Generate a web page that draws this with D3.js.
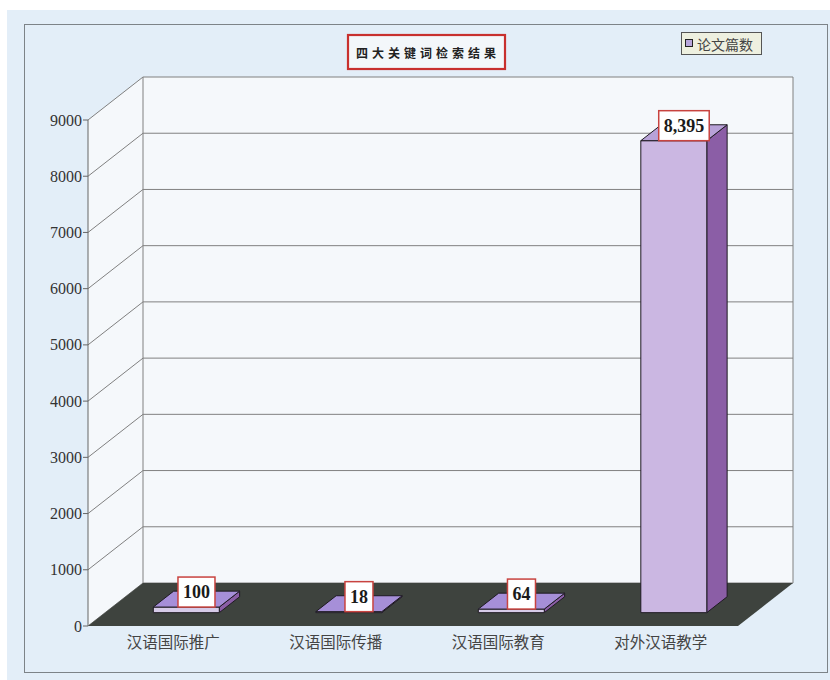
<!DOCTYPE html>
<html>
<head>
<meta charset="utf-8">
<script src="https://cdn.jsdelivr.net/npm/d3@7"></script>
<style>
  html, body { margin: 0; padding: 0; background: #ffffff; }
  svg { display: block; }
</style>
</head>
<body>
<svg id="chart" width="830" height="680"></svg>
<script>
// Search results for four key terms
const categories = ["汉语国际推广", "汉语国际传播", "汉语国际教育", "对外汉语教学"];
const paperCounts = [100, 18, 64, 8395];
const yTicks = [0, 1000, 2000, 3000, 4000, 5000, 6000, 7000, 8000, 9000];
const chartTitle = "四大关键词检索结果";
const legendLabel = "论文篇数";

const svg = d3.select("#chart");

// plot frame (front plane) and 3D depth offset
const frontLeft = 88, frontRight = 738, frontBottom = 626, frontTop = 120;
const depthDX = 55, depthDY = -43;
const barZ0 = 0.31, barZ1 = 0.68;

const y = d3.scaleLinear().domain([0, 9000]).range([frontBottom, frontTop]);
const x = d3.scaleBand().domain(categories).range([frontLeft, frontRight])
  .paddingInner(0.594).paddingOuter(0.297);

// project a front-plane point back by depth fraction z
const P = (px, py, z) => [px + z * depthDX, py + z * depthDY];
const poly = pts => pts.map(p => p.join(",")).join(" ");

// outer background
svg.append("rect").attr("x", 7).attr("y", 10).attr("width", 823).attr("height", 670)
  .attr("fill", "#e3eef8");
svg.append("rect").attr("x", 24.5).attr("y", 24.5).attr("width", 803).attr("height", 648)
  .attr("fill", "none").attr("stroke", "#7d8388").attr("stroke-width", 1);

// walls
const yMax = y(9000), y0 = y(0);
svg.append("polygon")
  .attr("points", poly([P(frontLeft, yMax, 1), P(frontRight, yMax, 1), P(frontRight, y0, 1), P(frontLeft, y0, 1)]))
  .attr("fill", "#f5f8fb");
svg.append("polygon")
  .attr("points", poly([P(frontLeft, yMax, 0), P(frontLeft, yMax, 1), P(frontLeft, y0, 1), P(frontLeft, y0, 0)]))
  .attr("fill", "#f5f8fb");

// gridlines: diagonal on side wall + horizontal on back wall
const grid = svg.append("g").attr("stroke", "#808080").attr("stroke-width", 1).attr("fill", "none");
yTicks.forEach(t => {
  const a = P(frontLeft, y(t), 0), b = P(frontLeft, y(t), 1), c = P(frontRight, y(t), 1);
  grid.append("polyline").attr("points", poly([a, b, c]));
});
// wall edges
grid.append("line")
  .attr("x1", P(frontLeft, 0, 1)[0]).attr("x2", P(frontLeft, 0, 1)[0])
  .attr("y1", P(0, yMax, 1)[1]).attr("y2", P(0, y0, 1)[1]);
grid.append("line")
  .attr("x1", P(frontRight, 0, 1)[0]).attr("x2", P(frontRight, 0, 1)[0])
  .attr("y1", P(0, yMax, 1)[1]).attr("y2", P(0, y0, 1)[1]);

// floor
svg.append("polygon")
  .attr("points", poly([P(frontLeft, y0, 0), P(frontLeft, y0, 1), P(frontRight, y0, 1), P(frontRight, y0, 0)]))
  .attr("fill", "#3e433e");

// value axis
const axisG = svg.append("g");
axisG.append("line").attr("x1", frontLeft).attr("x2", frontLeft)
  .attr("y1", yMax).attr("y2", y0).attr("stroke", "#666").attr("stroke-width", 1);
axisG.selectAll(".tick").data(yTicks).join("line")
  .attr("x1", frontLeft - 5).attr("x2", frontLeft)
  .attr("y1", d => y(d)).attr("y2", d => y(d))
  .attr("stroke", "#666");
axisG.selectAll(".lbl").data(yTicks).join("text")
  .attr("x", frontLeft - 6).attr("y", d => y(d))
  .attr("text-anchor", "end").attr("dominant-baseline", "central")
  .attr("font-family", "'Liberation Serif', 'DejaVu Serif', serif")
  .attr("font-size", 16).attr("fill", "#333")
  .text(d => d);

// bars
const bars = svg.append("g").selectAll("g").data(categories.map((c, i) => ({ c, v: paperCounts[i] })))
  .join("g");
bars.each(function(d) {
  const g = d3.select(this);
  const x0 = x(d.c), w = x.bandwidth(), yt = y(d.v);
  const tall = d.v > 1000;
  g.append("polygon")
    .attr("points", poly([P(x0 + w, yt, barZ0), P(x0 + w, yt, barZ1), P(x0 + w, y0, barZ1), P(x0 + w, y0, barZ0)]))
    .attr("fill", "#8b5ea6").attr("stroke", "#1e1a22").attr("stroke-width", 1).attr("stroke-linejoin", "round");
  g.append("polygon")
    .attr("points", poly([P(x0, y0, barZ0), P(x0 + w, y0, barZ0), P(x0 + w, yt, barZ0), P(x0, yt, barZ0)]))
    .attr("fill", tall ? "#cbb7e2" : "#d6cbe8").attr("stroke", "#1e1a22").attr("stroke-width", 1);
  g.append("polygon")
    .attr("points", poly([P(x0, yt, barZ0), P(x0 + w, yt, barZ0), P(x0 + w, yt, barZ1), P(x0, yt, barZ1)]))
    .attr("fill", tall ? "#b8a2d8" : "#a68fd8").attr("stroke", "#1e1a22").attr("stroke-width", 1).attr("stroke-linejoin", "round");

  // value label box
  const cx = P(x0 + w / 2, yt, (barZ0 + barZ1) / 2)[0];
  const bottom = P(0, yt, barZ0)[1];
  const txt = g.append("text")
    .attr("x", cx).attr("y", bottom - 15)
    .attr("text-anchor", "middle").attr("dominant-baseline", "central")
    .attr("font-family", "'Liberation Serif', 'DejaVu Serif', serif")
    .attr("font-weight", "bold").attr("font-size", 18).attr("fill", "#1a1a1a")
    .text(d3.format(",")(d.v));
  const tw = txt.node().getComputedTextLength();
  g.insert("rect", "text")
    .attr("x", cx - tw / 2 - 5).attr("y", bottom - 30)
    .attr("width", tw + 10).attr("height", 30)
    .attr("fill", "#ffffff").attr("stroke", "#c8433f").attr("stroke-width", 1.5);
});

// category labels
svg.append("g").selectAll("text").data(categories).join("text")
  .attr("x", d => x(d) + x.bandwidth() / 2 + 4).attr("y", 641)
  .attr("text-anchor", "middle").attr("dominant-baseline", "central")
  .attr("font-family", "'Noto Sans CJK SC', sans-serif")
  .attr("font-size", 15.5).attr("fill", "#444")
  .text(d => d);

// title
svg.append("rect").attr("x", 348).attr("y", 35).attr("width", 157).attr("height", 34)
  .attr("fill", "#f3f7fa").attr("stroke", "#c8302e").attr("stroke-width", 2.2);
svg.append("text").attr("x", 428).attr("y", 52.5)
  .attr("text-anchor", "middle").attr("dominant-baseline", "central")
  .attr("font-family", "'Noto Sans CJK SC', sans-serif").attr("font-weight", "bold")
  .attr("font-size", 12).attr("letter-spacing", 4).attr("fill", "#222")
  .text(chartTitle);

// legend
svg.append("rect").attr("x", 681.5).attr("y", 32.5).attr("width", 80).attr("height", 22)
  .attr("fill", "#eef0e0").attr("stroke", "#555").attr("stroke-width", 1);
svg.append("rect").attr("x", 685.5).attr("y", 39.5).attr("width", 7).attr("height", 7)
  .attr("fill", "#b8a6dc").attr("stroke", "#222").attr("stroke-width", 1);
svg.append("text").attr("x", 697).attr("y", 43.5)
  .attr("dominant-baseline", "central")
  .attr("font-family", "'Noto Sans CJK SC', sans-serif")
  .attr("font-size", 14).attr("fill", "#444")
  .text(legendLabel);
</script>
</body>
</html>
